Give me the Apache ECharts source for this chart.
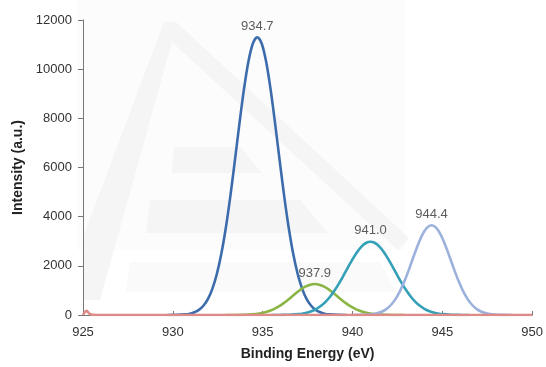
<!DOCTYPE html>
<html>
<head>
<meta charset="utf-8">
<style>
  html, body { margin: 0; padding: 0; background: #ffffff; }
  #chart { width: 546px; height: 367px; }
</style>
<script src="https://cdn.jsdelivr.net/npm/echarts@6/dist/echarts.min.js"></script>
</head>
<body>
<div id="chart"></div>
<script>
// Cu 2p3/2 region: fitted components (binding energy in eV, intensity in a.u.)
const peakPositions = [934.7, 937.9, 941.0, 944.4];

const mainEnergy = [929.7, 930.2, 930.7, 930.95, 931.2, 931.45, 931.7, 931.95, 932.2, 932.45, 932.7, 932.95, 933.2, 933.45, 933.7, 933.95, 934.2, 934.45,
  934.7,
  934.95, 935.2, 935.45, 935.7, 935.95, 936.2, 936.45, 936.7, 936.95, 937.2, 937.45, 937.7, 937.95, 938.2, 938.45, 938.7, 939.2, 939.7];
const mainIntensity = [0, 5, 27, 55, 110, 208, 376, 648, 1064, 1667, 2491, 3550, 4827, 6259, 7743, 9135, 10281, 11036,
  11300,
  11036, 10281, 9135, 7743, 6259, 4827, 3550, 2491, 1667, 1064, 648, 376, 208, 110, 55, 27, 5, 0];

const sat1Energy = [932.9, 933.4, 933.9, 934.4, 934.9, 935.15, 935.4, 935.65, 935.9, 936.15, 936.4, 936.65, 936.9, 937.15, 937.4, 937.65,
  937.9,
  938.15, 938.4, 938.65, 938.9, 939.15, 939.4, 939.65, 939.9, 940.15, 940.4, 940.65, 940.9, 941.4, 941.9, 942.4, 942.9];
const sat1Intensity = [0, 2, 8, 25, 71, 112, 171, 249, 350, 473, 613, 764, 915, 1052, 1163, 1235,
  1260,
  1235, 1163, 1052, 915, 764, 613, 473, 350, 249, 171, 112, 71, 25, 8, 2, 0];

const sat2Energy = [935.5, 936.0, 936.5, 937.0, 937.25, 937.5, 937.75, 938.0, 938.25, 938.5, 938.75, 939.0, 939.25, 939.5, 939.75, 940.0, 940.25, 940.5, 940.75,
  941.0,
  941.25, 941.5, 941.75, 942.0, 942.25, 942.5, 942.75, 943.0, 943.25, 943.5, 943.75, 944.0, 944.25, 944.5, 944.75, 945.0, 945.5, 946.0, 946.5];
const sat2Intensity = [0, 3, 12, 37, 63, 103, 164, 252, 374, 536, 743, 994, 1286, 1607, 1941, 2265, 2554, 2782, 2929,
  2980,
  2929, 2782, 2554, 2265, 1941, 1607, 1286, 994, 743, 536, 374, 252, 164, 103, 63, 37, 12, 3, 0];

const sat3Energy = [939.9, 940.4, 940.9, 941.15, 941.4, 941.65, 941.9, 942.15, 942.4, 942.65, 942.9, 943.15, 943.4, 943.65, 943.9, 944.15,
  944.4,
  944.65, 944.9, 945.15, 945.4, 945.65, 945.9, 946.15, 946.4, 946.65, 946.9, 947.15, 947.4, 947.65, 947.9, 948.4, 948.9];
const sat3Intensity = [0, 4, 19, 39, 77, 143, 250, 417, 657, 982, 1391, 1868, 2378, 2868, 3279, 3554,
  3650,
  3554, 3279, 2868, 2378, 1868, 1391, 982, 657, 417, 250, 143, 77, 39, 19, 4, 0];

const baseEnergy = [925.0, 925.1, 925.2, 925.35, 925.55, 926.0, 930.0, 935.0, 940.0, 945.0, 950.0];
const baseIntensity = [0, 120, 170, 60, 10, 0, 0, 0, 0, 0, 0];

const xTicks = { min: 925, max: 950, step: 5 };
const yTicks = { min: 0, max: 12000, step: 2000 };

const pairs = (xs, ys) => xs.map((x, i) => [x, ys[i]]);
const peakHeights = [mainIntensity, sat1Intensity, sat2Intensity, sat3Intensity].map(a => Math.max.apply(null, a));

function curve(name, xs, ys, color, z) {
  return {
    name: name,
    type: 'line',
    data: pairs(xs, ys),
    smooth: 0.3,
    showSymbol: false,
    z: z,
    lineStyle: { color: color, width: 2.6 },
    itemStyle: { color: color },
    emphasis: { disabled: true },
    animation: false
  };
}

const chart = echarts.init(document.getElementById('chart'), null, { renderer: 'canvas' });

// faint logo in the plot background
const wm = '#f5f5f5';
const graphic = [
  { type: 'rect', shape: { x: 77, y: 0, width: 328, height: 250 }, style: { fill: '#fcfcfc' }, z: -10, silent: true },
  { type: 'polygon', shape: { points: [[164, 22], [176, 22], [409, 238], [398, 250], [172, 42]] }, style: { fill: wm }, z: -9, silent: true },
  { type: 'polygon', shape: { points: [[164, 22], [172, 42], [100, 300], [84, 300], [84, 235]] }, style: { fill: wm }, z: -9, silent: true },
  { type: 'polygon', shape: { points: [[174, 147], [240, 147], [262, 173], [172, 173]] }, style: { fill: wm }, z: -9, silent: true },
  { type: 'polygon', shape: { points: [[150, 200], [300, 200], [328, 233], [146, 233]] }, style: { fill: wm }, z: -9, silent: true },
  { type: 'polygon', shape: { points: [[130, 262], [380, 262], [396, 292], [126, 292]] }, style: { fill: '#fafafa' }, z: -9, silent: true }
];

chart.setOption({
  animation: false,
  backgroundColor: '#ffffff',
  textStyle: { fontFamily: '"Liberation Sans", Arial, sans-serif' },
  graphic: graphic,
  grid: { left: 83, right: 11, top: 20, bottom: 52, containLabel: false },
  xAxis: {
    type: 'value',
    min: xTicks.min, max: xTicks.max, interval: xTicks.step,
    name: 'Binding Energy (eV)',
    nameLocation: 'middle',
    nameGap: 32,
    nameTextStyle: { fontSize: 14, fontWeight: 'bold', color: '#222' },
    axisLine: { show: true, onZero: false, lineStyle: { color: '#777', width: 1 } },
    axisTick: { show: true, inside: true, length: 4, lineStyle: { color: '#777' } },
    axisLabel: { fontSize: 13, color: '#333', margin: 11, formatter: v => String(v) },
    splitLine: { show: false }
  },
  yAxis: {
    type: 'value',
    min: yTicks.min, max: yTicks.max, interval: yTicks.step,
    name: 'Intensity (a.u.)',
    nameLocation: 'middle',
    nameRotate: 90,
    nameGap: 58,
    nameTextStyle: { fontSize: 14, fontWeight: 'bold', color: '#222' },
    axisLine: { show: true, lineStyle: { color: '#777', width: 1 } },
    axisTick: { show: true, inside: false, length: 5, lineStyle: { color: '#777' } },
    axisLabel: { fontSize: 13, color: '#333', margin: 11, formatter: v => String(v) },
    splitLine: { show: false }
  },
  series: [
    curve('934.7', mainEnergy, mainIntensity, '#3c6cac', 3),
    curve('937.9', sat1Energy, sat1Intensity, '#8ab545', 3),
    curve('941.0', sat2Energy, sat2Intensity, '#34a0b7', 3),
    curve('944.4', sat3Energy, sat3Intensity, '#9cb2dc', 3),
    curve('baseline', baseEnergy, baseIntensity, '#de8a86', 4),
    {
      name: 'peaks',
      type: 'scatter',
      data: peakPositions.map((x, i) => [x, peakHeights[i]]),
      symbolSize: 1,
      itemStyle: { color: 'rgba(0,0,0,0)' },
      label: {
        show: true,
        position: 'top',
        distance: 4,
        fontSize: 13,
        color: '#333',
        formatter: p => p.value[0].toFixed(1)
      },
      emphasis: { disabled: true },
      z: 5,
      animation: false
    }
  ]
});
</script>
</body>
</html>
